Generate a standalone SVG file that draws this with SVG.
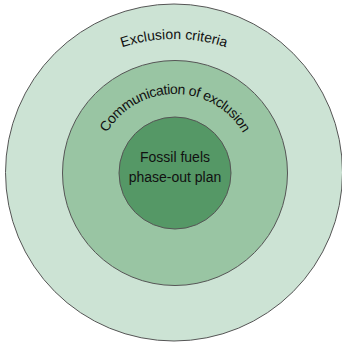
<svg xmlns="http://www.w3.org/2000/svg" width="342" height="344" viewBox="0 0 342 344">
<style>
.ring{stroke:#555;stroke-width:1}
.t{font-family:"Liberation Sans",Arial,sans-serif;font-size:14px;fill:#111}
.s{letter-spacing:-0.45px}
</style>
<defs>
<path id="arcOuter" d="M 9,204 A 165,165 0 0 1 339,204"/>
<path id="arcMid" d="M 96,173 A 79,79 0 0 1 254,173"/>
</defs>
<rect width="342" height="344" fill="#fff"/>
<g id="outer">
<circle class="ring" cx="174" cy="172.5" r="168.5" fill="#cce3d4"/>
<text class="t"><textPath href="#arcOuter" startOffset="50%" text-anchor="middle">Exclusion criteria</textPath></text>
</g>
<g id="middle">
<circle class="ring" cx="175" cy="173" r="112.5" fill="#99c5a3"/>
<text class="t s"><textPath href="#arcMid" startOffset="50%" text-anchor="middle">Communication of exclusion</textPath></text>
</g>
<g id="inner">
<circle class="ring" cx="175" cy="173" r="56" fill="#559866"/>
<text class="t" x="175" y="162" text-anchor="middle">Fossil fuels</text>
<text class="t" x="175" y="182" text-anchor="middle">phase-out plan</text>
</g>
<g id="connectors"/>
</svg>
